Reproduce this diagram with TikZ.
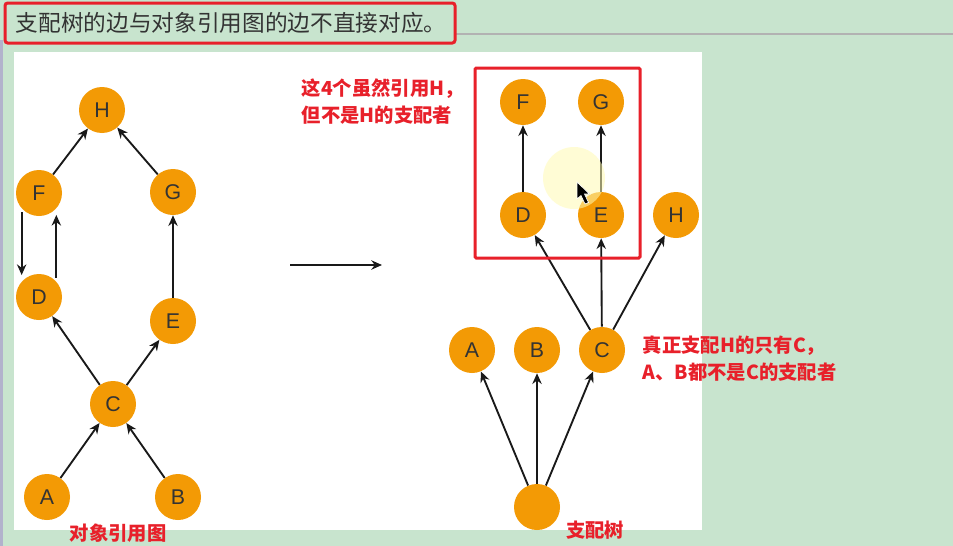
\documentclass[tikz,border=0pt]{standalone}
\usepackage{fontspec}
\setsansfont{Liberation Sans}
\newfontfamily\cjk{Noto Sans CJK SC}
\usetikzlibrary{arrows.meta}
\definecolor{bggreen}{HTML}{C8E4CE}
\definecolor{nodeorange}{HTML}{F39A05}
\definecolor{nodetext}{HTML}{333333}
\definecolor{notered}{HTML}{E8202A}

\begin{document}
\begin{tikzpicture}[x=0.75pt,y=-0.75pt,
  obj/.style={circle,fill=nodeorange,minimum size=34.5pt,inner sep=0pt,
    font=\sffamily\fontsize{16}{16}\selectfont,text=nodetext},
  ref/.style={draw=black!90,line width=1.4pt,-{Stealth[length=8pt,width=7pt]}},
  note/.style={text=notered,font=\cjk\bfseries\fontsize{14.5}{20}\selectfont,align=left}]
  % page, panel and title bar
  \useasboundingbox (0,0) rectangle (953,546);
  \fill[bggreen] (0,0) rectangle (953,546);
  \fill[white] (14,52) rectangle (702,530);
  \draw[black!30,line width=1pt] (455,34) -- (953,34);
  \draw[blue!20!gray!50,line width=2pt] (1.5,40) -- (1.5,546);
  \draw[notered,line width=2.25pt,rounded corners=2pt,fill=bggreen] (5,3) rectangle (455,43);
  \node[anchor=west,text=nodetext,font=\cjk\fontsize{17}{17}\selectfont] (title) at (11,23)
    {支配树的边与对象引用图的边不直接对应。};

  % object reference graph
  \node[obj] (oH) at (102,110) {H};
  \node[obj] (oF) at (39,193)  {F};
  \node[obj] (oG) at (173,192) {G};
  \node[obj] (oD) at (39,297)  {D};
  \node[obj] (oE) at (173,321) {E};
  \node[obj] (oC) at (113,404) {C};
  \node[obj] (oA) at (47,497)  {A};
  \node[obj] (oB) at (178,497) {B};
  \draw[ref] (oA) -- (oC);
  \draw[ref] (oB) -- (oC);
  \draw[ref] (oC) -- (oD);
  \draw[ref] (oC) -- (oE);
  \draw[ref] (oE) -- (oG);
  \draw[ref] (oG) -- (oH);
  \draw[ref] (oF) -- (oH);
  \draw[ref] ([xshift=-13pt,yshift=3pt]oF.south) -- ([xshift=-13pt,yshift=-1pt]oD.north);
  \draw[ref] ([xshift=13pt,yshift=-3pt]oD.north) -- ([xshift=13pt,yshift=1pt]oF.south);
  \node[note] (olabel) at (118,533) {对象引用图};

  \coordinate (mid1) at (290,265);
  \coordinate (mid2) at (382,265);
  \draw[ref] (mid1) -- (mid2);

  % dominator tree
  \node[obj] (dF) at (523,102) {F};
  \node[obj] (dG) at (601,102) {G};
  \node[obj] (dD) at (523,215) {D};
  \node[obj] (dE) at (601,215) {E};
  \node[obj] (dH) at (676,215) {H};
  \node[obj] (dA) at (472,350) {A};
  \node[obj] (dB) at (537,350) {B};
  \node[obj] (dC) at (602,350) {C};
  \node[obj] (dR) at (537,507) {};
  \draw[ref] (dR) -- (dA);
  \draw[ref] (dR) -- (dB);
  \draw[ref] (dR) -- (dC);
  \draw[ref] (dC) -- (dD);
  \draw[ref] (dC) -- (dE);
  \draw[ref] (dC) -- (dH);
  \draw[ref] (dD) -- (dF);
  \draw[ref] (dE) -- (dG);
  \draw[notered,line width=2.25pt,rounded corners=1pt] (475,68) rectangle (640,258);
  \node[note] (dlabel) at (595,530) {支配树};

  % notes
  \node[note,anchor=west] (note1) at (297,101.5) {这4个虽然引用H，\\但不是H的支配者};
  \node[note,anchor=west] (note2) at (638,358.5) {真正支配H的只有C，\\A、B都不是C的支配者};

  % pointer highlight
  \fill[yellow!30,opacity=0.55] (574,178) circle (31);
  \draw[white,line width=0.5pt,fill=black] (577,182) -- (577,199) -- (581,195.5) -- (585,204)
    -- (588.5,202.5) -- (584.5,194) -- (589.5,194) -- cycle;
\end{tikzpicture}
\end{document}
